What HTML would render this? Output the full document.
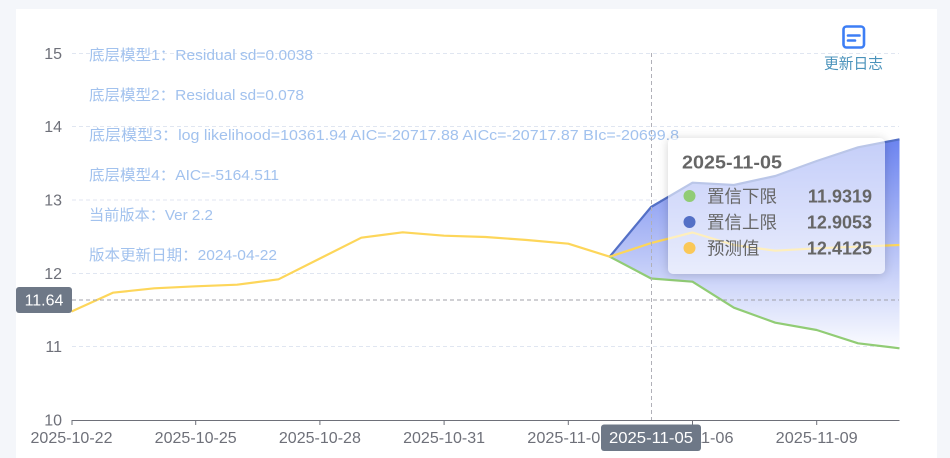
<!DOCTYPE html>
<html><head><meta charset="utf-8"><style>
html,body{margin:0;padding:0;background:#f4f6fa;}
#wrap{position:relative;width:950px;height:458px;overflow:hidden;background:#f4f6fa;font-family:"Liberation Sans","Noto Sans CJK SC",sans-serif;}
#card{position:absolute;left:16px;top:9px;width:921px;height:449px;background:#fff;}
svg{position:absolute;left:0;top:0;}
#tip{position:absolute;left:668px;top:138px;width:217px;height:136px;background:rgba(255,255,255,0.6);border-radius:5px;box-shadow:0 1px 10px rgba(0,0,0,0.18);}
</style></head><body><div id="wrap"><div id="card"></div>
<svg width="950" height="458" viewBox="0 0 950 458" font-family="Liberation Sans, Noto Sans CJK SC, sans-serif">
<defs>
<linearGradient id="g" x1="0" y1="139" x2="0" y2="349" gradientUnits="userSpaceOnUse">
<stop offset="0" stop-color="#6c84f0"/>
<stop offset="0.5" stop-color="#b3bff6"/>
<stop offset="1" stop-color="#fbfcff"/>
</linearGradient>
</defs>
<g stroke="#e0e6f1" stroke-width="1" stroke-dasharray="4,3">
<line x1="72" y1="53.5" x2="899" y2="53.5"/>
<line x1="72" y1="126.5" x2="899" y2="126.5"/>
<line x1="72" y1="200" x2="899" y2="200"/>
<line x1="72" y1="273.5" x2="899" y2="273.5"/>
<line x1="72" y1="346.5" x2="899" y2="346.5"/>
</g>
<g fill="#6e7079" font-size="16" text-anchor="end">
<text x="62" y="59">15</text>
<text x="62" y="132">14</text>
<text x="62" y="205.5">13</text>
<text x="62" y="279">12</text>
<text x="62" y="352">11</text>
<text x="62" y="425.5">10</text>
</g>
<!-- area -->
<path d="M609.7,256.7 L651.1,207 L692.5,182.7 L733.9,185 L775.3,176 L816.7,161 L858.1,147.3 L899.5,139.3 L899.5,348.3 L858.1,343.3 L816.7,330 L775.3,322.7 L733.9,307.7 L692.5,281.7 L651.1,278.5 Z" fill="url(#g)"/>
<g fill="#a2c2ee" font-size="15">
<text x="89" y="59.8" textLength="224" lengthAdjust="spacingAndGlyphs">底层模型1：Residual sd=0.0038</text>
<text x="89" y="99.8" textLength="215" lengthAdjust="spacingAndGlyphs">底层模型2：Residual sd=0.078</text>
<text x="89" y="139.8" textLength="590" lengthAdjust="spacingAndGlyphs">底层模型3：log likelihood=10361.94 AIC=-20717.88 AICc=-20717.87 BIc=-20699.8</text>
<text x="89" y="179.8" textLength="190" lengthAdjust="spacingAndGlyphs">底层模型4：AIC=-5164.511</text>
<text x="89" y="219.8" textLength="124" lengthAdjust="spacingAndGlyphs">当前版本：Ver 2.2</text>
<text x="89" y="259.8" textLength="188" lengthAdjust="spacingAndGlyphs">版本更新日期：2024-04-22</text>
</g>
<g fill="none" stroke-width="2.2" stroke-linejoin="round">
<polyline stroke="#91cc75" points="609.7,256.7 651.1,278.5 692.5,281.7 733.9,307.7 775.3,322.7 816.7,330 858.1,343.3 899.5,348.3"/>
<polyline stroke="#5470c6" points="609.7,256.7 651.1,207 692.5,182.7 733.9,185 775.3,176 816.7,161 858.1,147.3 899.5,139.3"/>
<polyline stroke="#fdd65a" points="71.5,311.5 112.9,292.7 154.3,288.3 195.7,286.3 237.1,284.7 278.5,279.3 319.9,258.5 361.3,237.7 402.7,232.3 444.1,235.7 485.5,237 526.9,240 568.3,243.7 609.7,256.7"/>
<polyline stroke="#fdd65a" points="609.7,256.7 651.1,243.1 692.5,232.5 733.9,245 775.3,250.7 816.7,248.3 858.1,246.7 899.5,245"/>
</g>
<!-- x axis -->
<line x1="71.5" y1="420.5" x2="899.5" y2="420.5" stroke="#6e7079" stroke-width="1"/>
<g stroke="#6e7079" stroke-width="1">
<line x1="72" y1="420" x2="72" y2="425"/>
<line x1="195.7" y1="420" x2="195.7" y2="425"/>
<line x1="319.9" y1="420" x2="319.9" y2="425"/>
<line x1="444.1" y1="420" x2="444.1" y2="425"/>
<line x1="568.3" y1="420" x2="568.3" y2="425"/>
<line x1="692.5" y1="420" x2="692.5" y2="425"/>
<line x1="816.7" y1="420" x2="816.7" y2="425"/>
</g>
<g fill="#6e7079" font-size="16" text-anchor="middle">
<text x="71.5" y="443" textLength="82" lengthAdjust="spacingAndGlyphs">2025-10-22</text>
<text x="195.7" y="443" textLength="82" lengthAdjust="spacingAndGlyphs">2025-10-25</text>
<text x="319.9" y="443" textLength="82" lengthAdjust="spacingAndGlyphs">2025-10-28</text>
<text x="444.1" y="443" textLength="82" lengthAdjust="spacingAndGlyphs">2025-10-31</text>
<text x="568.3" y="443" textLength="82" lengthAdjust="spacingAndGlyphs">2025-11-03</text>
<text x="692.5" y="443" textLength="82" lengthAdjust="spacingAndGlyphs">2025-11-06</text>
<text x="816.7" y="443" textLength="82" lengthAdjust="spacingAndGlyphs">2025-11-09</text>
</g>
<!-- crosshair -->
<line x1="72" y1="300" x2="899" y2="300" stroke="#a0a0a8" stroke-width="1" stroke-dasharray="4,3"/>
<line x1="651.5" y1="53" x2="651.5" y2="420" stroke="#b0b0b8" stroke-width="1" stroke-dasharray="4,3"/>
<rect x="16" y="287" width="56" height="26" rx="3" fill="#6e7887"/>
<text x="44" y="305.5" fill="#fff" font-size="16" text-anchor="middle">11.64</text>
<rect x="601" y="424.5" width="100" height="26.5" rx="3" fill="#6e7887"/>
<text x="651" y="443" fill="#fff" font-size="16" text-anchor="middle" textLength="84" lengthAdjust="spacingAndGlyphs">2025-11-05</text>
<!-- icon -->
<rect x="843.5" y="26.5" width="20.5" height="21" rx="3" fill="none" stroke="#3d7ef5" stroke-width="2.6"/>
<line x1="848" y1="35.5" x2="859.5" y2="35.5" stroke="#3d7ef5" stroke-width="2.6" stroke-linecap="round"/>
<line x1="848" y1="40.5" x2="855" y2="40.5" stroke="#3d7ef5" stroke-width="2.6" stroke-linecap="round"/>
<text x="824" y="68.5" fill="#4b93bb" font-size="15" textLength="59" lengthAdjust="spacingAndGlyphs">更新日志</text>
</svg>
<div id="tip"></div>
<svg width="950" height="458" viewBox="0 0 950 458" font-family="Liberation Sans, Noto Sans CJK SC, sans-serif">
<text x="682" y="168.5" fill="#666" font-size="18" font-weight="bold" textLength="100" lengthAdjust="spacingAndGlyphs">2025-11-05</text>
<circle cx="689.5" cy="196" r="6" fill="#91cc75"/>
<circle cx="689.5" cy="222" r="6" fill="#5470c6"/>
<circle cx="689.5" cy="248" r="6" fill="#fac858"/>
<g fill="#666" font-size="17.5">
<text x="707" y="202.5" textLength="70" lengthAdjust="spacingAndGlyphs">置信下限</text>
<text x="707" y="228.5" textLength="70" lengthAdjust="spacingAndGlyphs">置信上限</text>
<text x="707" y="254.5" textLength="52.5" lengthAdjust="spacingAndGlyphs">预测值</text>
</g>
<g fill="#666" font-size="18" font-weight="bold" text-anchor="end">
<text x="872" y="202.5">11.9319</text>
<text x="872" y="228.5">12.9053</text>
<text x="872" y="254.5">12.4125</text>
</g>
</svg>
</div></body></html>
